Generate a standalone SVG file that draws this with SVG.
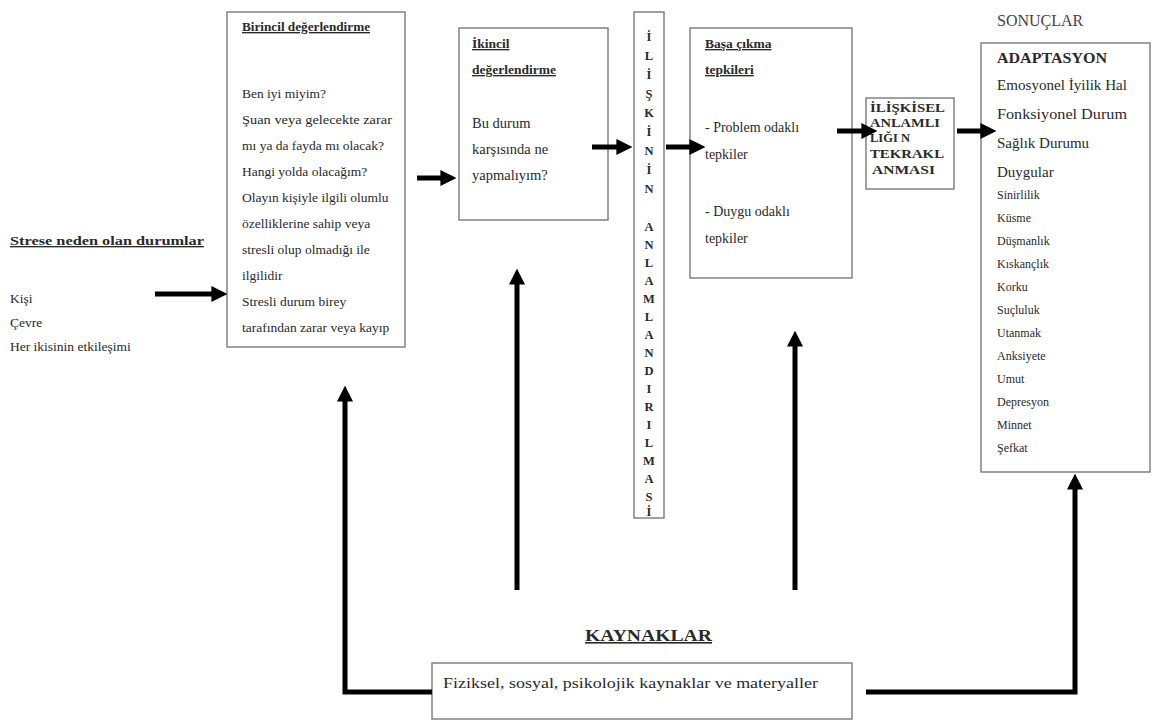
<svg xmlns="http://www.w3.org/2000/svg" width="1153" height="722" viewBox="0 0 1153 722">
<style>
text{font-family:"Liberation Serif","Times New Roman",serif;fill:#2a2a2a;font-size:13.5px}
.b{font-weight:bold}
.u{text-decoration:underline}
.box{fill:#fff;stroke:#7a7a7a;stroke-width:1.4}
.con{fill:none;stroke:#000;stroke-width:5}
.m{font-size:14.5px}
.n{font-size:14px}
.r{font-size:15px}
.s{font-size:12px}
.v{font-weight:bold;font-size:12.5px;text-anchor:middle}
.k{font-weight:bold;font-size:12.5px}
</style>
<defs>
<marker id="ah" viewBox="0 0 10 10" refX="1" refY="5" markerWidth="16" markerHeight="16" markerUnits="userSpaceOnUse" orient="auto">
<path d="M0,0 L10,5 L0,10 z" fill="#000"/>
</marker>
</defs>
<rect width="1153" height="722" fill="#fff"/>

<g id="stress">
<text x="10" y="245" class="b u" textLength="194" lengthAdjust="spacingAndGlyphs">Strese neden olan durumlar</text>
<text x="10" y="303">Kişi</text>
<text x="10" y="327">Çevre</text>
<text x="10" y="351">Her ikisinin etkileşimi</text>
</g>

<g id="birincil">
<rect class="box" x="227" y="12" width="178" height="335"/>
<text x="242" y="31" class="b u" textLength="128" lengthAdjust="spacingAndGlyphs">Birincil değerlendirme</text>
<text x="242" y="98">Ben iyi miyim?</text>
<text x="242" y="124" textLength="150" lengthAdjust="spacingAndGlyphs">Şuan veya gelecekte zarar</text>
<text x="242" y="150">mı ya da fayda mı olacak?</text>
<text x="242" y="176">Hangi yolda olacağım?</text>
<text x="242" y="202">Olayın kişiyle ilgili olumlu</text>
<text x="242" y="228">özelliklerine sahip veya</text>
<text x="242" y="254">stresli olup olmadığı ile</text>
<text x="242" y="280">ilgilidir</text>
<text x="242" y="306">Stresli durum birey</text>
<text x="242" y="332">tarafından zarar veya kayıp</text>
</g>

<g id="ikincil">
<rect class="box" x="459" y="28" width="149" height="192"/>
<text x="472" y="48" class="b u">İkincil</text>
<text x="472" y="74" class="b u">değerlendirme</text>
<text x="472" y="128" class="m">Bu durum</text>
<text x="472" y="154" class="m">karşısında ne</text>
<text x="472" y="180" class="m">yapmalıyım?</text>
</g>

<g id="iliskinin">
<rect class="box" x="634" y="12" width="30" height="506"/>
<text x="649" y="41" class="v">İ</text>
<text x="649" y="60" class="v">L</text>
<text x="649" y="79" class="v">İ</text>
<text x="649" y="98" class="v">Ş</text>
<text x="649" y="117" class="v">K</text>
<text x="649" y="136" class="v">İ</text>
<text x="649" y="155" class="v">N</text>
<text x="649" y="174" class="v">İ</text>
<text x="649" y="193" class="v">N</text>
<text x="649" y="231" class="v">A</text>
<text x="649" y="249" class="v">N</text>
<text x="649" y="267" class="v">L</text>
<text x="649" y="285" class="v">A</text>
<text x="649" y="303" class="v">M</text>
<text x="649" y="321" class="v">L</text>
<text x="649" y="339" class="v">A</text>
<text x="649" y="357" class="v">N</text>
<text x="649" y="375" class="v">D</text>
<text x="649" y="393" class="v">I</text>
<text x="649" y="411" class="v">R</text>
<text x="649" y="429" class="v">I</text>
<text x="649" y="447" class="v">L</text>
<text x="649" y="465" class="v">M</text>
<text x="649" y="483" class="v">A</text>
<text x="649" y="501" class="v">S</text>
<text x="649" y="516" class="v">İ</text>
</g>

<g id="basa">
<rect class="box" x="690" y="28" width="162" height="250"/>
<text x="705" y="48" class="b u">Başa çıkma</text>
<text x="705" y="74" class="b u">tepkileri</text>
<text x="705" y="132" class="n">- Problem odaklı</text>
<text x="705" y="159" class="n">tepkiler</text>
<text x="705" y="216" class="n">- Duygu odaklı</text>
<text x="705" y="243" class="n">tepkiler</text>
</g>

<g id="iliskisel">
<rect class="box" x="866" y="98" width="88" height="91"/>
<text x="870" y="112" class="k" textLength="75" lengthAdjust="spacingAndGlyphs">İLİŞKİSEL</text>
<text x="870" y="127" class="k" textLength="70" lengthAdjust="spacingAndGlyphs">ANLAMLI</text>
<text x="870" y="142" class="k">LIĞI N</text>
<text x="870" y="158" class="k" textLength="74" lengthAdjust="spacingAndGlyphs">TEKRAKL</text>
<text x="872" y="174" class="k" textLength="63" lengthAdjust="spacingAndGlyphs">ANMASI</text>
</g>

<g id="sonuclar">
<text x="997" y="26" style="font-size:16px;fill:#444">SONUÇLAR</text>
<rect class="box" x="981" y="43" width="169" height="429"/>
<text x="997" y="63" class="b r" textLength="110" lengthAdjust="spacingAndGlyphs">ADAPTASYON</text>
<text x="997" y="90" class="r" textLength="130" lengthAdjust="spacingAndGlyphs">Emosyonel İyilik Hal</text>
<text x="997" y="119" class="r" textLength="130" lengthAdjust="spacingAndGlyphs">Fonksiyonel Durum</text>
<text x="997" y="148" class="r">Sağlık Durumu</text>
<text x="997" y="177" class="r">Duygular</text>
<text x="997" y="199" class="s">Sinirlilik</text>
<text x="997" y="222" class="s">Küsme</text>
<text x="997" y="245" class="s">Düşmanlık</text>
<text x="997" y="268" class="s">Kıskançlık</text>
<text x="997" y="291" class="s">Korku</text>
<text x="997" y="314" class="s">Suçluluk</text>
<text x="997" y="337" class="s">Utanmak</text>
<text x="997" y="360" class="s">Anksiyete</text>
<text x="997" y="383" class="s">Umut</text>
<text x="997" y="406" class="s">Depresyon</text>
<text x="997" y="429" class="s">Minnet</text>
<text x="997" y="452" class="s">Şefkat</text>
</g>

<g id="kaynaklar">
<text x="585" y="641" class="b u" style="font-size:16px" textLength="127" lengthAdjust="spacingAndGlyphs">KAYNAKLAR</text>
<rect class="box" x="432" y="663" width="420" height="56"/>
<text x="443" y="688" style="font-size:15.5px" textLength="375" lengthAdjust="spacingAndGlyphs">Fiziksel, sosyal, psikolojik kaynaklar  ve materyaller</text>
</g>

<g id="connectors">
<line class="con" x1="155" y1="294" x2="213" y2="294" marker-end="url(#ah)"/>
<line class="con" x1="417" y1="178" x2="442" y2="178" marker-end="url(#ah)"/>
<line class="con" x1="592" y1="147" x2="618" y2="147" marker-end="url(#ah)"/>
<line class="con" x1="666" y1="147" x2="691" y2="147" marker-end="url(#ah)"/>
<line class="con" x1="837" y1="131" x2="863" y2="131" marker-end="url(#ah)"/>
<line class="con" x1="957" y1="131" x2="982" y2="131" marker-end="url(#ah)"/>
<line class="con" x1="517" y1="590" x2="517" y2="283" marker-end="url(#ah)"/>
<line class="con" x1="795" y1="590" x2="795" y2="345" marker-end="url(#ah)"/>
<polyline class="con" points="432,692 345,692 345,400" marker-end="url(#ah)"/>
<polyline class="con" points="866,692 1075,692 1075,488" marker-end="url(#ah)"/>
</g>
</svg>
